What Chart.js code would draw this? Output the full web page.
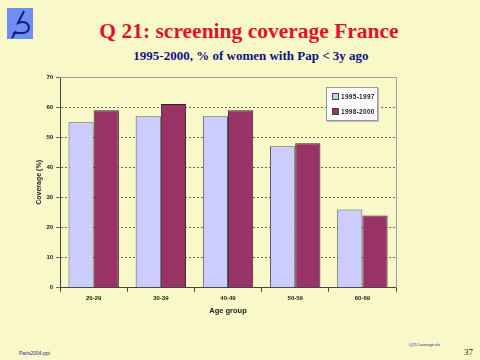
<!DOCTYPE html>
<html>
<head>
<meta charset="utf-8">
<script src="https://cdn.jsdelivr.net/npm/chart.js@4"></script>
<style>
  html, body { margin: 0; padding: 0; }
  body { width: 480px; height: 360px; background: #F8F8C8; position: relative; overflow: hidden; font-family: "Liberation Sans", Arial, sans-serif; }
  #logo { position: absolute; left: 7px; top: 8px; width: 26px; height: 31px; background: #6E8EF2; }
  #title { position: absolute; left: 0; width: 498px; top: 19px; text-align: center; font: bold 21.5px "Liberation Serif", "Times New Roman", serif; color: #E3102B; }
  #subtitle { position: absolute; left: 0; width: 502px; top: 48px; text-align: center; font: bold 13px "Liberation Serif", "Times New Roman", serif; color: #10107E; }
  #wrap { position: absolute; left: 0; top: 60px; width: 480px; height: 265px; }
  #legend { position: absolute; left: 326px; top: 87px; width: 50px; height: 32px; background: #fff; border: 1px solid #999; box-shadow: 1px 1px 0 #bbb; font: bold 6.5px "Liberation Sans", Arial, sans-serif; color: #222; letter-spacing: 0.3px; }
  #legend div { position: absolute; left: 5px; white-space: nowrap; }
  #legend span { display: inline-block; width: 5px; height: 5px; border: 1px solid #444; margin-right: 2px; vertical-align: -1px; }
  .foot { position: absolute; color: #2A2A9A; }
</style>
</head>
<body>
<div id="logo">
  <svg width="26" height="31" viewBox="0 0 26 31">
    <path d="M17 3 L11 15 Q20 12 22 19 Q22 25 15 25 L6 25" fill="none" stroke="#12207A" stroke-width="2"/>
    <path d="M9 23 L5 30" stroke="#12207A" stroke-width="2"/>
  </svg>
</div>
<div id="title">Q 21: screening coverage France</div>
<div id="subtitle">1995-2000, % of women with Pap &lt; 3y ago</div>
<div id="wrap"><canvas id="myChart" width="480" height="265"></canvas></div>
<div id="legend"></div>
<div class="foot" style="left:409px;top:342px;font-size:4px;">Q21Coverage.xls</div>
<div class="foot" style="left:19px;top:350px;font-size:5px;">Paris2004.ppt</div>
<div class="foot" style="left:464px;top:347px;font:9px 'Liberation Serif', serif;color:#222;">37</div>

<script>
  const ageGroups = ['20-29', '30-39', '40-49', '50-59', '60-69'];
  const period1Label = '1995-1997';
  const period2Label = '1998-2000';
  const period1 = [55, 57, 57, 47, 26];
  const period2 = [59, 61, 59, 48, 24];
  const yTicks = [0, 10, 20, 30, 40, 50, 60, 70];

  const colLight = '#CCCCFF';
  const colDark = '#993366';

  // cadre du graphique (haut et droite), comme Excel
  const plotBorder = {
    id: 'plotBorder',
    afterDraw(chart) {
      const a = chart.chartArea;
      const c = chart.ctx;
      c.save();
      c.strokeStyle = '#A0A0A0';
      c.lineWidth = 1;
      c.beginPath();
      c.moveTo(a.left, a.top + 0.5);
      c.lineTo(a.right + 0.5, a.top + 0.5);
      c.lineTo(a.right + 0.5, a.bottom);
      c.stroke();
      c.restore();
    }
  };

  const tickFont = { family: 'Liberation Sans', size: 6, weight: 'bold' };

  const myChart = new Chart(document.getElementById('myChart'), {
    type: 'bar',
    data: {
      labels: ageGroups,
      datasets: [
        { label: period1Label, data: period1, backgroundColor: colLight, borderColor: '#555566', borderWidth: 1 },
        { label: period2Label, data: period2, backgroundColor: colDark, borderColor: '#3A2030', borderWidth: 1 }
      ]
    },
    options: {
      responsive: false,
      animation: false,
      layout: { padding: { top: 17, right: 84, left: 35, bottom: 6 } },
      datasets: { bar: { categoryPercentage: 0.75, barPercentage: 1 } },
      plugins: {
        legend: { display: false },
        tooltip: { enabled: false }
      },
      scales: {
        x: {
          grid: { offset: true, drawOnChartArea: false, color: '#444', tickLength: 4 },
          border: { color: '#444', width: 1 },
          ticks: { font: tickFont, color: '#222', padding: 3 },
          title: { display: true, text: 'Age group', font: { family: 'Liberation Sans', size: 7.5, weight: 'bold' }, color: '#222', padding: { top: 1 } }
        },
        y: {
          min: 0,
          max: 70,
          afterBuildTicks(axis) { axis.ticks = yTicks.map(v => ({ value: v })); },
          grid: { color: '#666', tickLength: 4, lineWidth: 1 },
          border: { color: '#444', width: 1, dash: [2, 2] },
          ticks: { font: tickFont, color: '#222', padding: 3 },
          title: { display: true, text: 'Coverage (%)', font: { family: 'Liberation Sans', size: 7, weight: 'bold' }, color: '#222', padding: { top: 0, bottom: 0 } }
        }
      }
    },
    plugins: [plotBorder]
  });

  // légende HTML dans la zone du graphique
  const leg = document.getElementById('legend');
  myChart.data.datasets.forEach((ds, i) => {
    const row = document.createElement('div');
    row.style.top = (i === 0 ? 5 : 20) + 'px';
    row.innerHTML = '<span style="background:' + ds.backgroundColor + '"></span>' + ds.label;
    leg.appendChild(row);
  });
</script>
</body>
</html>
